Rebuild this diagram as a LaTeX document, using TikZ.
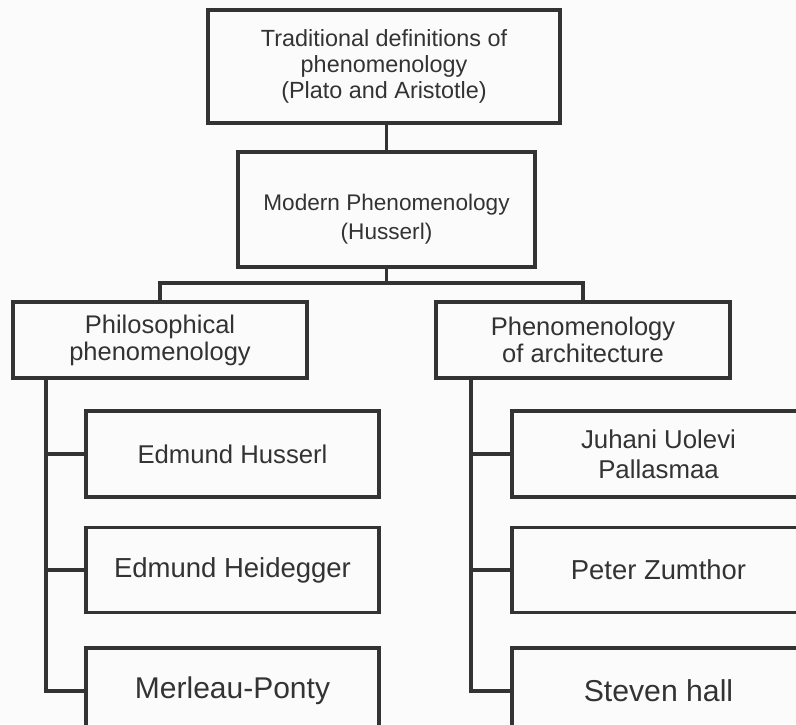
\documentclass[tikz,border=0pt]{standalone}
\usepackage{fontspec}
\setmainfont{Liberation Sans}
\usetikzlibrary{positioning,calc}
\definecolor{tinta}{HTML}{333333}
\definecolor{fondo}{HTML}{FBFBFB}

\begin{document}
\begin{tikzpicture}[
            x=1pt, y=-1pt,
            bloque/.style={draw=tinta, line width=3.6pt, text=tinta, align=center, inner sep=3pt, minimum width=293pt},
            linea/.style={draw=tinta, line width=3.6pt}
        ]

        % Fondo y marco del dibujo
        \fill[fondo] (0,0) rectangle (796,724);
        \useasboundingbox (0,0) rectangle (796,724);
        \clip (0,0) rectangle (796,724);

        % Nodo superior (definiciones tradicionales)
        \node[bloque, minimum width=352pt, minimum height=113pt, font=\fontsize{23.4}{26}\selectfont] (trad) at (384,66.5)
        {Traditional definitions of\\phenomenology\\(Plato and Aristotle)};
        % Fenomenologia moderna, justo debajo (texto algo bajado)
        \node[bloque, minimum width=297pt, minimum height=115pt, font=\fontsize{22.6}{29}\selectfont] (modern) at (386.5,209.5)
        {\rule{0pt}{36pt}Modern Phenomenology\\(Husserl)};

        % Las dos ramas
        \node[bloque, minimum width=294pt, minimum height=76pt, font=\fontsize{25.5}{27}\selectfont] (philo) at (160,340)
        {Philosophical\\phenomenology};
        \node[bloque, minimum width=294pt, minimum height=76pt, font=\fontsize{25.5}{27}\selectfont] (arch) at (583,340)
        {Phenomenology\\of architecture};

        % Hijos de la rama izquierda
        \node[bloque, minimum height=86pt, font=\fontsize{25.7}{28}\selectfont] (husserl) at (232.5,454) {Edmund Husserl};
        \node[bloque, minimum height=85pt, font=\fontsize{27.5}{30}\selectfont, below=27pt of husserl] (heid) {Edmund Heidegger};
        \node[bloque, minimum height=85pt, font=\fontsize{30}{32}\selectfont, below=32pt of heid] (merleau) {Merleau-Ponty};

        % Hijos de la rama derecha
        \node[bloque, minimum height=86pt, font=\fontsize{25.8}{30}\selectfont] (pallas) at (658.5,454) {Juhani Uolevi\\Pallasmaa};
        \node[bloque, minimum height=85pt, font=\fontsize{27.4}{30}\selectfont, below=27pt of pallas] (zumthor) {Peter Zumthor};
        \node[bloque, minimum height=85pt, font=\fontsize{30.2}{32}\selectfont, below=32pt of zumthor] (steven) {Steven hall};

        % Uniones del arbol
        \draw[linea] (modern.north) -- (modern.north |- trad.south);
        \draw[linea] (modern.south) -- ++(0,14) coordinate (bus);
        \draw[linea] (philo.north) |- (bus) -| (arch.north);

        % Espina izquierda
        \coordinate (lspine) at ([xshift=35pt]philo.south west);
        \draw[linea] (lspine) |- (merleau.west);
        \draw[linea] (lspine |- husserl.west) -- (husserl.west);
        \draw[linea] (lspine |- heid.west) -- (heid.west);

        % Espina derecha
        \coordinate (rspine) at ([xshift=37pt]arch.south west);
        \draw[linea] (rspine) |- (steven.west);
        \draw[linea] (rspine |- pallas.west) -- (pallas.west);
        \draw[linea] (rspine |- zumthor.west) -- (zumthor.west);

    \end{tikzpicture}
\end{document}
